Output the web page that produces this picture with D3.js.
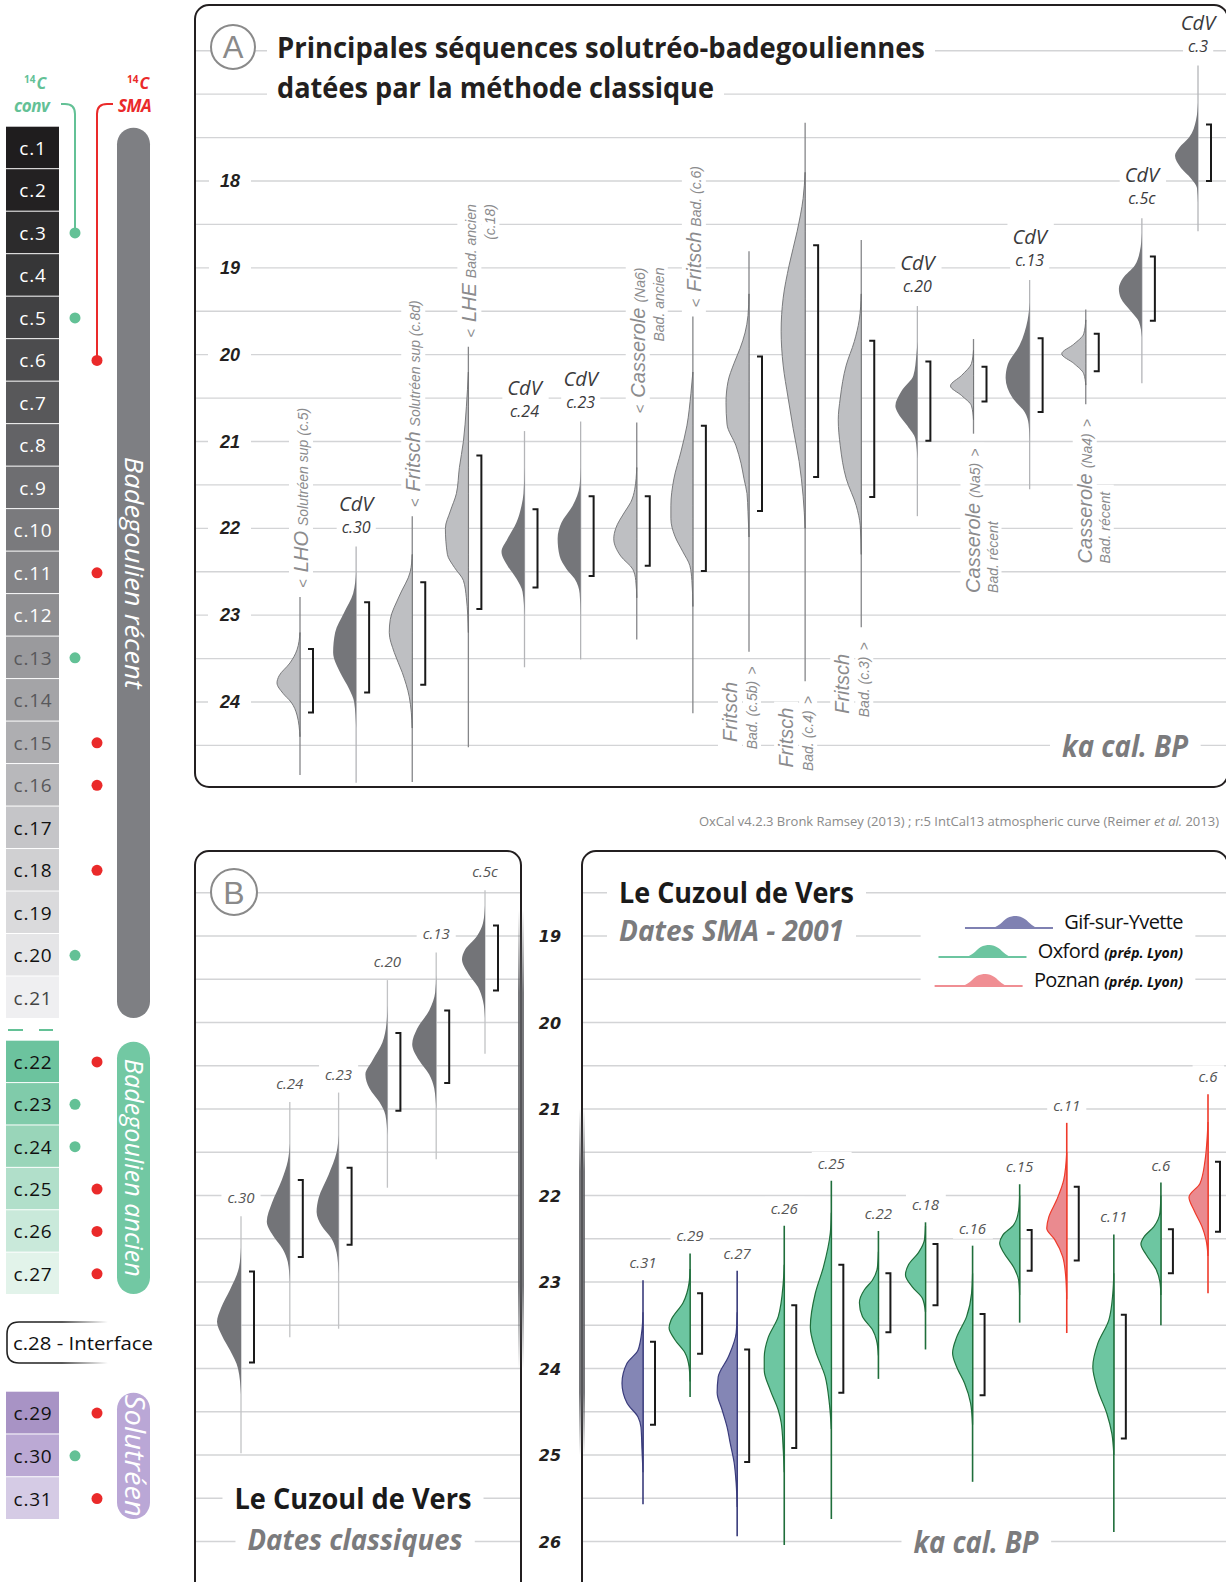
<!DOCTYPE html>
<html><head><meta charset="utf-8">
<script src="https://cdn.jsdelivr.net/npm/d3@7"></script>
<style>html,body{margin:0;padding:0;background:#fff}svg{display:block}</style>
</head><body>
<svg id="chart" width="1226" height="1582"></svg>
<script>
// ================= DATA =================
// Left stratigraphic column
const grayLayers = ["c.1","c.2","c.3","c.4","c.5","c.6","c.7","c.8","c.9","c.10","c.11","c.12","c.13","c.14","c.15","c.16","c.17","c.18","c.19","c.20","c.21"];
const greenLayers = ["c.22","c.23","c.24","c.25","c.26","c.27"];
const purpleLayers = ["c.29","c.30","c.31"];
const interfaceLayer = "c.28 - Interface";
const convDots = ["c.3","c.5","c.13","c.20","c.23","c.24","c.30"];
const smaDots = ["c.6","c.11","c.15","c.16","c.18","c.22","c.25","c.26","c.27","c.29","c.31"];
const eraNames = ["Badegoulien récent","Badegoulien ancien","Solutréen"];

// Panel A (ka cal. BP)
const seqA = ["LHO c.5","CdV c.30","Fritsch c.8d","LHE c.18","CdV c.24","CdV c.23","Casserole Na6","Fritsch c.6","Fritsch c.5b","Fritsch c.4","Fritsch c.3","CdV c.20","Casserole Na5","CdV c.13","Casserole Na4","CdV c.5c","CdV c.3"];
const toneA = ["light","dark","light","light","dark","dark","light","light","light","light","light","dark","light","dark","light","dark","dark"];
const siteA = ["LHO","CdV","Fritsch","LHE","CdV","CdV","Casserole","Fritsch","Fritsch","Fritsch","Fritsch","CdV","Casserole","CdV","Casserole","CdV","CdV"];
const subA = ["Solutréen sup (c.5)","c.30","Solutréen sup (c.8d)","Bad. ancien","c.24","c.23","(Na6)","Bad. (c.6)","Bad. (c.5b)","Bad. (c.4)","Bad. (c.3)","c.20","(Na5)","c.13","(Na4)","c.5c","c.3"];
const extraA = ["","","","(c.18)","","","Bad. ancien","","","","","","Bad. récent","","Bad. récent","",""];
const sideA = ["top","cdv","top","top","cdv","cdv","top","top","bottom","bottom","bottom","cdv","bottom","cdv","bottom","cdv","cdv"];
const spanA = [[22.79,24.84],[22.21,24.93],[21.86,24.92],[19.91,24.52],[20.88,23.60],[20.77,23.51],[20.78,23.28],[19.56,24.13],[18.81,23.42],[17.33,23.76],[18.68,23.14],[19.44,21.86],[19.82,20.91],[19.14,21.55],[19.48,20.57],[18.43,20.33],[16.67,18.58]];
const rangeA = [[23.39,24.12],[22.85,23.89],[22.62,23.80],[21.16,22.93],[21.78,22.68],[21.63,22.55],[21.63,22.43],[20.82,22.49],[20.02,21.80],[18.74,21.41],[19.84,21.64],[20.08,20.99],[20.14,20.54],[19.81,20.66],[19.76,20.19],[18.87,19.61],[17.35,18.00]];
const densA = [
 [[23.2,0],[23.4,3],[23.55,10],[23.7,21],[23.78,23],[23.9,17],[24.0,9],[24.15,3],[24.4,0]],
 [[22.5,0],[22.75,3],[22.97,12],[23.2,21],[23.43,23],[23.66,16],[23.85,7],[24.0,2],[24.3,0]],
 [[22.3,0],[22.5,2],[22.78,13],[23.05,22],[23.2,23],[23.43,18],[23.66,10],[23.94,3],[24.3,0]],
 [[20.2,0],[20.6,2],[21.0,5],[21.3,9],[21.6,12],[21.8,18],[22.0,23],[22.3,21],[22.45,14],[22.6,5],[22.8,2],[23.2,0]],
 [[21.3,0],[21.6,1],[21.74,3],[21.93,8],[22.12,17],[22.27,23],[22.43,17],[22.58,8],[22.73,2],[23.0,0]],
 [[21.3,0],[21.51,1],[21.74,8],[21.93,19],[22.12,23],[22.32,21],[22.47,14],[22.58,6],[22.75,1],[23.0,0]],
 [[21.3,0],[21.55,2],[21.7,6],[21.81,12],[22.0,21],[22.12,23],[22.32,16],[22.47,4],[22.6,1],[22.8,0]],
 [[20.2,0],[20.45,2],[20.82,6],[21.12,12],[21.43,19],[21.74,22],[21.89,22],[22.09,18],[22.27,10],[22.43,3],[22.6,1],[22.9,0]],
 [[19.3,0],[19.55,1],[19.75,4],[19.93,9],[20.1,15],[20.31,21],[20.55,23],[20.8,22],[21.05,13],[21.25,8],[21.43,5],[21.6,2],[21.81,1],[22.1,0]],
 [[17.9,0],[18.2,2],[18.58,8],[18.97,16],[19.35,22],[19.73,24],[20.12,22],[20.5,17],[20.85,12],[21.23,6],[21.63,2],[22.0,0]],
 [[19.3,0],[19.6,2],[19.85,7],[20.12,15],[20.5,21],[20.75,23],[21.05,21],[21.43,15],[21.74,5],[21.97,1],[22.3,0]],
 [[19.85,0],[20.0,1],[20.24,4],[20.42,16],[20.59,22],[20.66,20],[20.82,10],[20.97,2],[21.2,0]],
 [[19.95,0],[20.1,2],[20.24,12],[20.36,23],[20.47,12],[20.59,2],[20.75,0]],
 [[19.4,0],[19.6,2],[19.89,10],[20.12,22],[20.27,24],[20.5,17],[20.66,5],[20.8,1],[21.0,0]],
 [[19.6,0],[19.76,2],[19.88,12],[19.99,24],[20.1,12],[20.22,2],[20.35,0]],
 [[18.6,0],[18.81,2],[18.97,7],[19.12,19],[19.24,23],[19.35,21],[19.5,11],[19.62,3],[19.8,0]],
 [[17.1,0],[17.3,2],[17.5,9],[17.62,19],[17.71,23],[17.85,17],[17.97,7],[18.08,1],[18.25,0]]
];
const ticksA = [18,19,20,21,22,23,24];

// Panel B (Le Cuzoul de Vers, dates classiques)
const seqB = ["c.30","c.24","c.23","c.20","c.13","c.5c"];
const spanB = [[22.24,24.98],[20.92,23.64],[20.81,23.54],[19.51,21.91],[19.19,21.58],[18.47,20.36]];
const rangeB = [[22.88,23.93],[21.82,22.71],[21.68,22.57],[20.12,21.02],[19.86,20.70],[18.88,19.63]];
const densB = [
 [[22.6,0],[22.83,2],[23.09,11],[23.3,20],[23.46,24],[23.62,19],[23.79,11],[24.0,3],[24.3,0]],
 [[21.4,0],[21.6,2],[21.82,8],[22.09,18],[22.3,23],[22.46,17],[22.62,7],[22.77,2],[23.0,0]],
 [[21.3,0],[21.5,2],[21.76,10],[22.03,20],[22.19,22],[22.35,17],[22.5,7],[22.66,2],[22.9,0]],
 [[19.8,0],[20.02,1],[20.23,5],[20.44,15],[20.6,22],[20.76,18],[20.92,8],[21.07,2],[21.3,0]],
 [[19.45,0],[19.65,1],[19.86,7],[20.07,19],[20.25,24],[20.44,17],[20.6,7],[20.76,2],[21.0,0]],
 [[18.65,0],[18.85,2],[19.0,8],[19.16,20],[19.27,23],[19.43,17],[19.59,7],[19.75,2],[19.95,0]]
];
const ticksBC = [19,20,21,22,23,24,25,26];

// Panel C (Le Cuzoul de Vers, dates SMA 2001)
const seqC = ["c.31","c.29","c.27","c.26","c.25","c.22","c.18","c.16","c.15","c.11","c.11","c.6","c.6"];
const labC = ["Gif","Oxford","Gif","Oxford","Oxford","Oxford","Oxford","Oxford","Oxford","Poznan","Oxford","Oxford","Poznan"];
const spanC = [[22.98,25.57],[22.67,24.33],[22.87,25.94],[22.35,26.04],[21.83,25.74],[22.41,24.12],[22.31,23.78],[22.58,25.31],[21.87,23.47],[21.16,23.59],[22.45,25.89],[21.85,23.50],[20.83,23.13]];
const rangeC = [[23.69,24.65],[23.13,23.83],[23.78,25.08],[23.27,24.92],[22.80,24.28],[22.90,23.58],[22.56,23.27],[23.37,24.31],[22.40,22.87],[21.90,22.75],[23.38,24.81],[22.39,22.90],[21.61,22.42]];
const densC = [
 [[23.35,0],[23.55,1],[23.79,5],[23.94,16],[24.17,21],[24.4,16],[24.56,5],[24.68,2],[24.94,1],[25.2,0]],
 [[22.85,0],[23.01,1],[23.24,7],[23.44,19],[23.53,21],[23.67,15],[23.82,5],[23.98,1],[24.15,0]],
 [[23.35,0],[23.59,1],[23.87,9],[24.1,19],[24.28,20],[24.48,15],[24.68,10],[24.86,7],[25.09,3],[25.33,1],[25.6,0]],
 [[22.8,0],[23.01,1],[23.4,6],[23.64,16],[23.87,20],[24.02,20],[24.25,14],[24.48,6],[24.63,3],[24.94,1],[25.2,0]],
 [[22.2,0],[22.43,1],[22.83,8],[23.13,16],[23.52,21],[23.79,16],[24.1,6],[24.4,2],[24.7,0]],
 [[22.65,0],[22.83,1],[22.98,6],[23.09,14],[23.24,19],[23.4,16],[23.55,6],[23.67,2],[23.85,0]],
 [[22.35,0],[22.51,1],[22.66,7],[22.8,17],[22.92,20],[23.06,13],[23.19,3],[23.35,0]],
 [[22.9,0],[23.13,1],[23.4,6],[23.64,16],[23.82,20],[23.98,16],[24.17,8],[24.4,2],[24.65,0]],
 [[22.0,0],[22.17,1],[22.34,6],[22.46,17],[22.55,20],[22.66,16],[22.83,6],[22.98,1],[23.15,0]],
 [[21.5,0],[21.82,3],[22.05,10],[22.25,18],[22.38,20],[22.51,12],[22.71,4],[22.94,1],[23.2,0]],
 [[22.9,0],[23.13,1],[23.44,5],[23.71,16],[23.98,21],[24.25,16],[24.52,7],[24.75,2],[25.0,0]],
 [[22.0,0],[22.2,1],[22.36,7],[22.48,17],[22.56,20],[22.68,15],[22.85,5],[23.0,1],[23.15,0]],
 [[21.15,0],[21.36,1],[21.6,3],[21.86,8],[22.02,19],[22.17,14],[22.36,6],[22.51,2],[22.7,0]]
];
const labs = ["Gif","Oxford","Poznan"];
const labNames = ["Gif-sur-Yvette","Oxford","Poznan"];
const labSub = ["","(prép. Lyon)","(prép. Lyon)"];
const legendHump = [[0,0],[0.3,0],[0.4,4],[0.48,10],[0.58,12],[0.68,9],[0.76,3],[0.83,0],[1,0]];

// ================= STYLES =================
const fSans = "'Liberation Sans', Arial, Helvetica, sans-serif";
const fMy = "'Open Sans', 'Noto Sans', sans-serif";
const fVer = "'DejaVu Sans', Verdana, sans-serif";
const grayFills = ["#1f1d1e","#232122","#2c2b2c","#363637","#414143","#4c4c4e","#58585a","#636366","#6e6e71","#7a7a7d","#838386","#8e8e91","#9a9a9d","#a4a4a7","#aeaeb1","#b8b8bb","#c5c5c8","#d0d0d2","#dadadc","#e5e5e7","#efeff1"];
const grayInk = ["#fff","#fff","#fff","#fff","#fff","#fff","#fff","#fff","#fff","#fff","#fff","#fff","#58585b","#58585b","#58585b","#58585b","#111","#111","#111","#111","#444"];
const greenFills = ["#6cc39e","#80cbaa","#99d5b9","#b1dfca","#c9e9da","#e2f3ea"];
const purpleFills = ["#a893c5","#bba9d4","#d5cbe5"];
const eraFills = ["#7e7f83","#72c8a3","#baa7d6"];
const cGreen = "#63c196", cRed = "#ea2a2a";
const labFill = d3.scaleOrdinal().domain(labs).range(["#8486b5","#6dc6a1","#ea8a8f"]);
const labStroke = d3.scaleOrdinal().domain(labs).range(["#3a3c7c","#1f6e3b","#ef3a2a"]);
const labLegend = d3.scaleOrdinal().domain(labs).range(["#7f81b2","#6cc5a0","#f08e93"]);

// ================= DRAW =================
const svg = d3.select('#chart');
const defs = svg.append('defs');
const gGrid = svg.append('g');
const gKnock = svg.append('g');
const gMarks = svg.append('g');
const gText = svg.append('g');
const gFrame = svg.append('g');

function knock(sel, px, py) {
  sel.each(function(){
    const b = this.getBBox();
    const r = gKnock.append('rect').attr('x', b.x-px).attr('y', b.y-py)
      .attr('width', b.width+2*px).attr('height', b.height+2*py).attr('fill','#fff');
    const t = this.getAttribute('transform'); if (t) r.attr('transform', t);
  });
  return sel;
}
function txt(g, x, y, s, o={}) {
  const t = g.append('text').attr('x',x).attr('y',y).text(s)
    .attr('font-family', o.ff||fMy).attr('font-size', o.fs||14).attr('fill', o.fill||'#222')
    .attr('text-anchor', o.anchor||'start');
  if (o.fw) t.attr('font-weight', o.fw);
  if (o.it) t.attr('font-style','italic');
  if (o.tl) t.attr('textLength', o.tl).attr('lengthAdjust','spacingAndGlyphs');
  if (o.ls) t.attr('letter-spacing', o.ls);
  return t;
}
function bracket(x, y1, y2) {
  gMarks.append('path').attr('d', `M${x-5},${y1}H${x}V${y2}H${x-5}`)
    .attr('fill','none').attr('stroke','#1a1a1a').attr('stroke-width',2);
}
function dist(x, yS, span, dens, rng, o) {
  gMarks.append('line').attr('x1',x).attr('x2',x).attr('y1',yS(span[0])).attr('y2',yS(span[1]))
    .attr('stroke', o.line).attr('stroke-width', o.lw||1.3);
  const area = d3.area().curve(d3.curveMonotoneY).y(d=>yS(d[0])).x0(x).x1(d=>x - o.w(d[1]));
  gMarks.append('path').attr('d', area(dens)).attr('fill', o.fill)
    .attr('stroke', o.stroke||'none').attr('stroke-width', o.sw||1);
  bracket(x + o.bo, yS(rng[0]), yS(rng[1]));
}
const wScale = d3.scaleLinear().domain([0,24]).range([0,24]);

// ---------- Left column ----------
const yGray = d3.scaleBand().domain(grayLayers).range([126.7,1019]);
const yGreen = d3.scaleBand().domain(greenLayers).range([1040.7,1295]);
const yPurple = d3.scaleBand().domain(purpleLayers).range([1391.7,1520]);
const blocks = [[grayLayers,grayFills,grayInk,yGray],[greenLayers,greenFills,greenLayers.map(()=>"#111"),yGreen],[purpleLayers,purpleFills,purpleLayers.map(()=>"#111"),yPurple]];
function layerCenter(n){ for (const b of blocks) if (b[0].includes(n)) return b[3](n)+b[3].bandwidth()/2; }
blocks.forEach(([names,fills,inks,sc])=>{
  names.forEach((n,i)=>{
    gMarks.append('rect').attr('x',6).attr('y',sc(n)).attr('width',53).attr('height',sc.bandwidth()-1).attr('fill',fills[i]);
    txt(gText, 33, sc(n)+sc.bandwidth()/2+7, n, {fs:19, fill:inks[i], anchor:'middle', ls:0.8});
  });
});
// dashes between c.21 and c.22
gMarks.append('path').attr('d','M8,1030H23M39,1030H53').attr('stroke',cGreen).attr('stroke-width',2);
// c.28 interface box
const ig = defs.append('linearGradient').attr('id','ifg').attr('gradientUnits','userSpaceOnUse').attr('x1',6).attr('x2',108).attr('y1',0).attr('y2',0);
ig.append('stop').attr('offset',0.55).attr('stop-color','#222').attr('stop-opacity',1);
ig.append('stop').attr('offset',1).attr('stop-color','#222').attr('stop-opacity',0);
gMarks.append('path').attr('d','M108,1322H19Q7,1322 7,1334V1351Q7,1363 19,1363H108').attr('fill','none').attr('stroke','url(#ifg)').attr('stroke-width',1.6);
txt(gText, 13, 1350, interfaceLayer, {fs:19, fill:'#111', tl:140});
// era bars
[yGray,yGreen,yPurple].forEach((sc,i)=>{
  const [a,b] = sc.range();
  gMarks.append('rect').attr('x',117).attr('y',a+1).attr('width',33).attr('height',b-a-2).attr('rx',16.5).attr('fill',eraFills[i]);
  const cy = (a+b)/2;
  const fs = i===2 ? 27 : 25;
  const tl = [232,218,122][i];
  gText.append('text').attr('transform',`translate(124.5,${cy}) rotate(90)`).attr('text-anchor','middle')
    .attr('font-family',fMy).attr('font-style','italic').attr('font-size',fs).attr('fill','#fff')
    .attr('textLength',tl).attr('lengthAdjust','spacingAndGlyphs').text(eraNames[i]);
});
// 14C conv / SMA headers
function c14(x, label, color, lx) {
  const h = txt(gText, x, 89, "", {fs:16, fw:700, it:true, fill:color});
  h.append('tspan').attr('font-size',10).attr('font-style','normal').attr('dy',-6).text("14");
  h.append('tspan').attr('dy',6).attr('dx',1).text("C");
  txt(gText, lx, 112, label, {fs:17, fw:700, it:true, fill:color, ls:-0.5});
}
c14(24, "conv", cGreen, 14);
c14(127, "SMA", cRed, 118);
gMarks.append('path').attr('d',`M61,104H65Q75,104 75,114V${layerCenter('c.3')}`).attr('fill','none').attr('stroke',cGreen).attr('stroke-width',2);
gMarks.append('path').attr('d',`M113,104H107Q97,104 97,114V${layerCenter('c.6')}`).attr('fill','none').attr('stroke',cRed).attr('stroke-width',2);
convDots.forEach(n=> gMarks.append('circle').attr('cx',75).attr('cy',layerCenter(n)).attr('r',5.5).attr('fill',cGreen));
smaDots.forEach(n=> gMarks.append('circle').attr('cx',97).attr('cy',layerCenter(n)).attr('r',5.5).attr('fill',cRed));

// ---------- Panel A ----------
const yA = d3.scaleLinear().domain([18,24]).range([181,702]);
const xA = d3.scalePoint().domain(seqA).range([300,1198]);
d3.range(16.5,24.51,0.5).forEach(v=> gGrid.append('line').attr('x1',196).attr('x2',1226).attr('y1',yA(v)).attr('y2',yA(v)).attr('stroke','#d3d4d6').attr('stroke-width',1.4));
gFrame.append('rect').attr('x',195).attr('y',5).attr('width',1033).attr('height',782).attr('rx',14).attr('fill','none').attr('stroke','#231f20').attr('stroke-width',2);
ticksA.forEach(v=> knock(txt(gText, 230, yA(v)+6, String(v), {ff:fSans, fs:18, fw:700, it:true, fill:'#231f20', anchor:'middle'}), 11, 2));
// title
gText.append('circle').attr('cx',233).attr('cy',47).attr('r',22).attr('fill','#fff').attr('stroke','#8a8a8a').attr('stroke-width',2);
txt(gText, 233, 58, "A", {ff:fSans, fs:31, fill:'#8a8a8a', anchor:'middle'});
knock(txt(gText, 277, 58, "Principales séquences solutréo-badegouliennes", {fs:29, fw:700, fill:'#231f20', tl:648}), 10, 2);
knock(txt(gText, 277, 98, "datées par la méthode classique", {fs:29, fw:700, fill:'#231f20', tl:437}), 10, 2);
knock(txt(gText, 1188, 757, "ka cal. BP", {fs:30, fw:700, it:true, fill:'#7b7b7d', anchor:'end', tl:126}), 12, 0);

function vtext(x, y, anchor, parts, color) {
  const t = gText.append('text').attr('transform',`translate(${x},${y}) rotate(-90)`).attr('text-anchor',anchor)
    .attr('fill',color).attr('font-family',fSans).attr('font-style','italic');
  parts.forEach(p=>{ const ts = t.append('tspan').attr('font-size',p[1]).text(p[0]); if (p[2]) ts.attr('dx',p[2]); });
  return t;
}
const lblGray = '#8b8b8d';
seqA.forEach((id,i)=>{
  const x = xA(id), dark = toneA[i]==='dark';
  dist(x, yA, spanA[i], densA[i], rangeA[i], {
    line: dark?'#b4b5b8':'#858689', fill: dark?'#75767a':'#bebfc2',
    stroke: dark?'none':'#6e6f72', sw:0.9, w:wScale, bo:13});
  const top = yA(spanA[i][0]), bot = yA(spanA[i][1]);
  if (sideA[i]==='cdv') {
    knock(txt(gText, x, top-36, siteA[i], {fs:20, it:true, fill:'#3a3a3c', anchor:'middle'}), 5, 1);
    knock(txt(gText, x, top-14, subA[i], {fs:16, it:true, fill:'#3a3a3c', anchor:'middle'}), 5, 1);
  } else if (sideA[i]==='top') {
    const t1 = vtext(x+8, top-9, 'start', [["<",15],[siteA[i],20,7],[subA[i],14,5]], lblGray);
    knock(t1, 6, 1);
    if (extraA[i]) {
      const len = t1.node().getBBox().width;
      knock(vtext(x+27, top-9-len, 'end', [[extraA[i],14]], lblGray), 6, 1);
    }
  } else {
    if (!extraA[i]) {
      const t2 = vtext(x+8, bot+15, 'end', [[subA[i],14],[">",14,6]], lblGray);
      knock(t2, 6, 1);
      const len2 = t2.node().getBBox().width;
      knock(vtext(x-12, bot+15+len2/2+4, 'middle', [[siteA[i],20]], lblGray), 6, 1);
    } else {
      const t1 = vtext(x+6, bot+15, 'end', [[siteA[i],20],[subA[i],14,5],[">",14,6]], lblGray);
      knock(t1, 6, 1);
      const len1 = t1.node().getBBox().width;
      knock(vtext(x+24, bot+15+len1, 'start', [[extraA[i],14]], lblGray), 6, 1);
    }
  }
});
// OxCal credit
const ox = txt(gText, 1219, 826, "", {fs:13, fill:'#8a8a8a', anchor:'end'});
ox.append('tspan').text("OxCal v4.2.3 Bronk Ramsey (2013) ; r:5 IntCal13 atmospheric curve (Reimer ");
ox.append('tspan').attr('font-style','italic').text("et al.");
ox.append('tspan').text(" 2013)");

// ---------- Panels B & C ----------
const yBC = d3.scaleLinear().domain([19,26]).range([936,1541.5]);
const gridBC = d3.range(18.5,26.01,0.5);
gridBC.forEach(v=>{
  gGrid.append('line').attr('x1',196).attr('x2',520).attr('y1',yBC(v)).attr('y2',yBC(v)).attr('stroke','#d3d4d6').attr('stroke-width',1.4);
  gGrid.append('line').attr('x1',583).attr('x2',1226).attr('y1',yBC(v)).attr('y2',yBC(v)).attr('stroke','#d3d4d6').attr('stroke-width',1.4);
});
gFrame.append('rect').attr('x',195).attr('y',851).attr('width',326).attr('height',780).attr('rx',14).attr('fill','none').attr('stroke','#231f20').attr('stroke-width',2);
gFrame.append('rect').attr('x',582).attr('y',851).attr('width',646).attr('height',780).attr('rx',14).attr('fill','none').attr('stroke','#231f20').attr('stroke-width',2);
// gradient edge bars
const eg = defs.append('linearGradient').attr('id','edge').attr('x1',0).attr('x2',0).attr('y1',0).attr('y2',1);
[[0,0],[0.18,0.85],[0.82,0.85],[1,0]].forEach(s=> eg.append('stop').attr('offset',s[0]).attr('stop-color','#5f6064').attr('stop-opacity',s[1]));
gFrame.append('rect').attr('x',518).attr('y',yBC(18.7)).attr('width',6).attr('height',yBC(24.0)-yBC(18.7)).attr('fill','url(#edge)');
gFrame.append('rect').attr('x',579).attr('y',yBC(21.0)).attr('width',6).attr('height',yBC(25.0)-yBC(21.0)).attr('fill','url(#edge)');
ticksBC.forEach(v=> txt(gText, 550, yBC(v)+6, String(v), {ff:fVer, fs:16, fw:700, it:true, fill:'#231f20', anchor:'middle'}));

// Panel B
const xB = d3.scalePoint().domain(seqB).range([241,485]);
gText.append('circle').attr('cx',234).attr('cy',892).attr('r',23).attr('fill','#fff').attr('stroke','#8a8a8a').attr('stroke-width',2);
txt(gText, 234, 904, "B", {ff:fSans, fs:32, fill:'#8a8a8a', anchor:'middle'});
seqB.forEach((id,i)=>{
  const x = xB(id);
  dist(x, yBC, spanB[i], densB[i], rangeB[i], {line:'#c2c3c5', fill:'#737478', w:wScale, bo:13});
  knock(txt(gText, x, yBC(spanB[i][0])-13, id, {fs:15, it:true, fill:'#555', anchor:'middle'}), 6, 1);
});
knock(txt(gText, 353, 1509, "Le Cuzoul de Vers", {fs:29, fw:700, fill:'#1a1a1a', anchor:'middle', tl:237}), 12, 0);
knock(txt(gText, 355, 1550, "Dates classiques", {fs:29, fw:700, it:true, fill:'#7b7b7d', anchor:'middle', tl:215}), 12, 0);

// Panel C
const keyC = seqC.map((c,i)=>c+'-'+labC[i]);
const xC = d3.scalePoint().domain(keyC).range([643,1208]);
keyC.forEach((k,i)=>{
  const x = xC(k);
  dist(x, yBC, spanC[i], densC[i], rangeC[i], {line:labStroke(labC[i]), lw:1.6, fill:labFill(labC[i]), stroke:labStroke(labC[i]), sw:1.2, w:wScale, bo:12});
  knock(txt(gText, x, yBC(spanC[i][0])-12, seqC[i], {fs:15, it:true, fill:'#555', anchor:'middle'}), 6, 1);
});
knock(txt(gText, 619, 903, "Le Cuzoul de Vers", {fs:29, fw:700, fill:'#1a1a1a', tl:235}), 12, 0);
knock(txt(gText, 619, 941, "Dates SMA - 2001", {fs:29, fw:700, it:true, fill:'#7b7b7d', tl:225}), 12, 0);
knock(txt(gText, 976, 1553, "ka cal. BP", {fs:30, fw:700, it:true, fill:'#7b7b7d', anchor:'middle', tl:125}), 12, 0);
// legend
const legY = d3.scalePoint().domain(labs).range([929,987]);
const legG = gText.append('g');
labs.forEach((l,i)=>{
  const y = legY(l);
  const t = txt(legG, 1183, y, "", {fs:20, fill:'#111', anchor:'end', ls:-0.6});
  t.append('tspan').text(labNames[i]);
  if (labSub[i]) t.append('tspan').attr('dx',5).attr('font-size',14).attr('font-weight',700).attr('font-style','italic').attr('letter-spacing',0).text(labSub[i]);
  const tw = t.node().getBBox().width;
  const x1 = 1183 - tw - 11, x0 = x1 - 88;
  const lx = d3.scaleLinear().domain([0,1]).range([x0,x1]);
  const ar = d3.area().curve(d3.curveMonotoneX).x(d=>lx(d[0])).y0(y-1).y1(d=>y-1-d[1]);
  legG.append('path').attr('d', ar(legendHump)).attr('fill', labLegend(l));
  legG.append('line').attr('x1',x0).attr('x2',x1).attr('y1',y-1).attr('y2',y-1).attr('stroke',labLegend(l)).attr('stroke-width',2);
});
const lb = legG.node().getBBox();
gKnock.append('rect').attr('x',lb.x-14).attr('y',lb.y-4).attr('width',lb.width+26).attr('height',lb.height+10).attr('fill','#fff');
</script>
</body></html>
